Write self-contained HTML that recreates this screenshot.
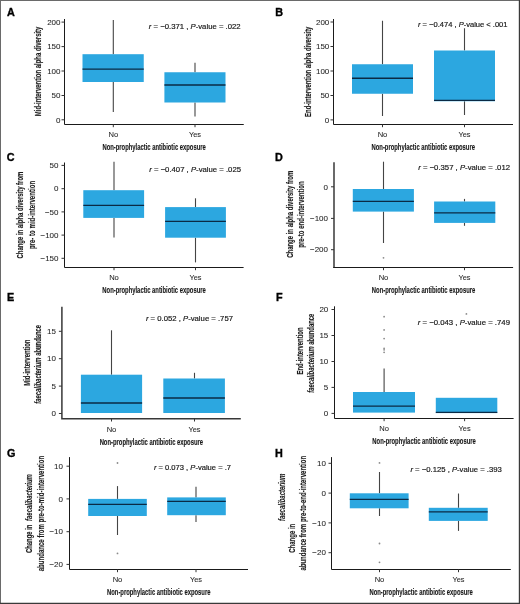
<!DOCTYPE html>
<html><head><meta charset="utf-8"><style>
html,body{margin:0;padding:0;background:#fff;}
svg{display:block;will-change:transform;}
.lab{font:bold 10.8px "Liberation Sans", sans-serif;fill:#000;stroke:#000;stroke-width:0.35px;}
.tl{font:8px "Liberation Sans", sans-serif;fill:#262626;stroke:#262626;stroke-width:0.06px;}
.an{font:7.1px "Liberation Sans", sans-serif;fill:#1a1a1a;stroke:#1a1a1a;stroke-width:0.18px;}
.tt{font:bold 9.3px "Liberation Sans", sans-serif;fill:#1a1a1a;stroke:#1a1a1a;stroke-width:0.15px;}
.ax{fill:none;stroke:#1a1a1a;stroke-width:1;}
.tk{stroke:#333;stroke-width:1;}
.wh{stroke:#444;stroke-width:1.1;}
.md{stroke:#0a2a45;stroke-width:1.3;}
.ou{fill:#8a8a8a;}
</style></head><body>
<svg width="520" height="604" viewBox="0 0 520 604">
<rect x="0" y="0" width="520" height="604" fill="#fff"/>
<path d="M0 0.5H520M0.5 0V604" stroke="#6a6a6a" stroke-width="1"/>
<path d="M519.4 0V604M0 603.4H520" stroke="#3a3a3a" stroke-width="1.2"/>
<text x="7.0" y="16.1" class="lab" id="labA">A</text>
<line x1="113.3" y1="20" x2="113.3" y2="54.2" class="wh"/>
<line x1="113.3" y1="82.0" x2="113.3" y2="112.0" class="wh"/>
<rect x="82.5" y="54.2" width="61.25" height="27.80" fill="#2CA7E0"/>
<line x1="82.5" y1="69.1" x2="143.75" y2="69.1" class="md"/>
<line x1="195.0" y1="62.8" x2="195.0" y2="72.25" class="wh"/>
<line x1="195.0" y1="102.5" x2="195.0" y2="116.4" class="wh"/>
<rect x="164.4" y="72.25" width="61.10" height="30.25" fill="#2CA7E0"/>
<line x1="164.4" y1="85" x2="225.5" y2="85" class="md"/>
<path d="M64.5 19.0 V124.5 H243.75" class="ax"/>
<line x1="61.50" y1="22.1" x2="64.5" y2="22.1" class="tk"/>
<text x="60.50" y="24.85" class="tl" text-anchor="end">200</text>
<line x1="61.50" y1="46.6" x2="64.5" y2="46.6" class="tk"/>
<text x="60.50" y="49.35" class="tl" text-anchor="end">150</text>
<line x1="61.50" y1="71.0" x2="64.5" y2="71.0" class="tk"/>
<text x="60.50" y="73.75" class="tl" text-anchor="end">100</text>
<line x1="61.50" y1="95.5" x2="64.5" y2="95.5" class="tk"/>
<text x="60.50" y="98.25" class="tl" text-anchor="end">50</text>
<line x1="61.50" y1="119.8" x2="64.5" y2="119.8" class="tk"/>
<text x="60.50" y="122.55" class="tl" text-anchor="end">0</text>
<line x1="113.3" y1="124.5" x2="113.3" y2="127.20" class="tk"/>
<text x="113.3" y="137.20" class="tl" text-anchor="middle" textLength="9.7" lengthAdjust="spacingAndGlyphs">No</text>
<line x1="195.0" y1="124.5" x2="195.0" y2="127.20" class="tk"/>
<text x="195.0" y="137.20" class="tl" text-anchor="middle" textLength="12.1" lengthAdjust="spacingAndGlyphs">Yes</text>
<text x="148.8" y="29.00" class="an" textLength="91.8" lengthAdjust="spacingAndGlyphs"><tspan font-style="italic">r</tspan> = −0.371 , <tspan font-style="italic">P</tspan>-value = .022</text>
<text x="154.12" y="150.40" class="tt" text-anchor="middle" textLength="103.4" lengthAdjust="spacingAndGlyphs">Non-prophylactic antibiotic exposure</text>
<text transform="translate(41.2,71.4) rotate(-90)" x="0" y="0" class="tt yt" text-anchor="middle" textLength="89.6" lengthAdjust="spacingAndGlyphs">Mid-intervention alpha diversity</text>
<text x="275.3" y="16.2" class="lab" id="labB">B</text>
<line x1="382.5" y1="20.75" x2="382.5" y2="64.25" class="wh"/>
<line x1="382.5" y1="93.75" x2="382.5" y2="116.0" class="wh"/>
<rect x="352" y="64.25" width="61.00" height="29.50" fill="#2CA7E0"/>
<line x1="352" y1="78.25" x2="413" y2="78.25" class="md"/>
<line x1="464.5" y1="28.25" x2="464.5" y2="50.5" class="wh"/>
<line x1="464.5" y1="101.25" x2="464.5" y2="115" class="wh"/>
<rect x="434" y="50.5" width="61.00" height="50.75" fill="#2CA7E0"/>
<line x1="434" y1="100.3" x2="495" y2="100.3" class="md"/>
<path d="M333.5 19.0 V124.5 H513" class="ax"/>
<line x1="330.50" y1="22.0" x2="333.5" y2="22.0" class="tk"/>
<text x="329.30" y="24.75" class="tl" text-anchor="end">200</text>
<line x1="330.50" y1="46.5" x2="333.5" y2="46.5" class="tk"/>
<text x="329.30" y="49.25" class="tl" text-anchor="end">150</text>
<line x1="330.50" y1="71.0" x2="333.5" y2="71.0" class="tk"/>
<text x="329.30" y="73.75" class="tl" text-anchor="end">100</text>
<line x1="330.50" y1="95.5" x2="333.5" y2="95.5" class="tk"/>
<text x="329.30" y="98.25" class="tl" text-anchor="end">50</text>
<line x1="330.50" y1="119.9" x2="333.5" y2="119.9" class="tk"/>
<text x="329.30" y="122.65" class="tl" text-anchor="end">0</text>
<line x1="382.5" y1="124.5" x2="382.5" y2="127.20" class="tk"/>
<text x="382.5" y="137.20" class="tl" text-anchor="middle" textLength="9.7" lengthAdjust="spacingAndGlyphs">No</text>
<line x1="464.5" y1="124.5" x2="464.5" y2="127.20" class="tk"/>
<text x="464.5" y="137.20" class="tl" text-anchor="middle" textLength="12.1" lengthAdjust="spacingAndGlyphs">Yes</text>
<text x="418" y="27.00" class="an" textLength="89.5" lengthAdjust="spacingAndGlyphs"><tspan font-style="italic">r</tspan> = −0.474 , <tspan font-style="italic">P</tspan>-value &lt; .001</text>
<text x="423.25" y="150.40" class="tt" text-anchor="middle" textLength="103.4" lengthAdjust="spacingAndGlyphs">Non-prophylactic antibiotic exposure</text>
<text transform="translate(311.3,71.75) rotate(-90)" x="0" y="0" class="tt yt" text-anchor="middle" textLength="90.3" lengthAdjust="spacingAndGlyphs">End-intervention alpha diversity</text>
<text x="6.7" y="161.4" class="lab" id="labC">C</text>
<line x1="114.0" y1="161.7" x2="114.0" y2="190.2" class="wh"/>
<line x1="114.0" y1="217.9" x2="114.0" y2="237.4" class="wh"/>
<rect x="83.3" y="190.2" width="60.80" height="27.70" fill="#2CA7E0"/>
<line x1="83.3" y1="205.35" x2="144.1" y2="205.35" class="md"/>
<line x1="195.5" y1="198.3" x2="195.5" y2="207.1" class="wh"/>
<line x1="195.5" y1="237.7" x2="195.5" y2="262.4" class="wh"/>
<rect x="165.1" y="207.1" width="60.80" height="30.60" fill="#2CA7E0"/>
<line x1="165.1" y1="221.4" x2="225.9" y2="221.4" class="md"/>
<path d="M64.5 162.5 V267.5 H243.6" class="ax"/>
<line x1="61.50" y1="165.4" x2="64.5" y2="165.4" class="tk"/>
<text x="58.50" y="168.15" class="tl" text-anchor="end">50</text>
<line x1="61.50" y1="188.7" x2="64.5" y2="188.7" class="tk"/>
<text x="58.50" y="191.45" class="tl" text-anchor="end">0</text>
<line x1="61.50" y1="211.9" x2="64.5" y2="211.9" class="tk"/>
<text x="58.50" y="214.65" class="tl" text-anchor="end">−50</text>
<line x1="61.50" y1="235.1" x2="64.5" y2="235.1" class="tk"/>
<text x="58.50" y="237.85" class="tl" text-anchor="end">−100</text>
<line x1="61.50" y1="258.3" x2="64.5" y2="258.3" class="tk"/>
<text x="58.50" y="261.05" class="tl" text-anchor="end">−150</text>
<line x1="114.0" y1="267.5" x2="114.0" y2="270.20" class="tk"/>
<text x="114.0" y="280.20" class="tl" text-anchor="middle" textLength="9.7" lengthAdjust="spacingAndGlyphs">No</text>
<line x1="195.5" y1="267.5" x2="195.5" y2="270.20" class="tk"/>
<text x="195.5" y="280.20" class="tl" text-anchor="middle" textLength="12.1" lengthAdjust="spacingAndGlyphs">Yes</text>
<text x="149.2" y="172.40" class="an" textLength="91.8" lengthAdjust="spacingAndGlyphs"><tspan font-style="italic">r</tspan> = −0.407 , <tspan font-style="italic">P</tspan>-value = .025</text>
<text x="154.05" y="293.40" class="tt" text-anchor="middle" textLength="103.4" lengthAdjust="spacingAndGlyphs">Non-prophylactic antibiotic exposure</text>
<text transform="translate(23.4,215.1) rotate(-90)" x="0" y="0" class="tt yt" text-anchor="middle" textLength="86.8" lengthAdjust="spacingAndGlyphs">Change in alpha diversity from</text>
<text transform="translate(34.6,215.0) rotate(-90)" x="0" y="0" class="tt yt" text-anchor="middle" textLength="68.2" lengthAdjust="spacingAndGlyphs">pre- to mid-intervention</text>
<text x="275.1" y="161.2" class="lab" id="labD">D</text>
<line x1="383.5" y1="161.7" x2="383.5" y2="189.0" class="wh"/>
<line x1="383.5" y1="211.6" x2="383.5" y2="243" class="wh"/>
<rect x="352.8" y="189.0" width="61.10" height="22.60" fill="#2CA7E0"/>
<line x1="352.8" y1="201.3" x2="413.9" y2="201.3" class="md"/>
<circle cx="383.5" cy="257.8" r="0.9" class="ou"/>
<line x1="464.5" y1="198.9" x2="464.5" y2="201.5" class="wh"/>
<line x1="464.5" y1="222.9" x2="464.5" y2="225.8" class="wh"/>
<rect x="434.1" y="201.5" width="61.20" height="21.40" fill="#2CA7E0"/>
<line x1="434.1" y1="212.9" x2="495.3" y2="212.9" class="md"/>
<path d="M334.0 162.3 V268.0" class="ax" style="stroke-width:1.4;stroke:#2a2a2a"/>
<path d="M333.3 267.5 H513.1" class="ax"/>
<line x1="331.00" y1="186.8" x2="334.0" y2="186.8" class="tk"/>
<text x="328.00" y="189.55" class="tl" text-anchor="end">0</text>
<line x1="331.00" y1="218.4" x2="334.0" y2="218.4" class="tk"/>
<text x="328.00" y="221.15" class="tl" text-anchor="end">−100</text>
<line x1="331.00" y1="249.7" x2="334.0" y2="249.7" class="tk"/>
<text x="328.00" y="252.45" class="tl" text-anchor="end">−200</text>
<line x1="383.5" y1="267.5" x2="383.5" y2="270.20" class="tk"/>
<text x="383.5" y="280.20" class="tl" text-anchor="middle" textLength="9.7" lengthAdjust="spacingAndGlyphs">No</text>
<line x1="464.5" y1="267.5" x2="464.5" y2="270.20" class="tk"/>
<text x="464.5" y="280.20" class="tl" text-anchor="middle" textLength="12.1" lengthAdjust="spacingAndGlyphs">Yes</text>
<text x="418.2" y="169.80" class="an" textLength="91.8" lengthAdjust="spacingAndGlyphs"><tspan font-style="italic">r</tspan> = −0.357 , <tspan font-style="italic">P</tspan>-value = .012</text>
<text x="423.55" y="293.40" class="tt" text-anchor="middle" textLength="103.4" lengthAdjust="spacingAndGlyphs">Non-prophylactic antibiotic exposure</text>
<text transform="translate(293.2,214.3) rotate(-90)" x="0" y="0" class="tt yt" text-anchor="middle" textLength="87.0" lengthAdjust="spacingAndGlyphs">Change in alpha diversity from</text>
<text transform="translate(304.3,214.55) rotate(-90)" x="0" y="0" class="tt yt" text-anchor="middle" textLength="66.3" lengthAdjust="spacingAndGlyphs">pre-to end-intervention</text>
<text x="7.1" y="301.2" class="lab" id="labE">E</text>
<line x1="111.5" y1="330.3" x2="111.5" y2="374.7" class="wh"/>
<rect x="80.9" y="374.7" width="61.20" height="38.30" fill="#2CA7E0"/>
<line x1="80.9" y1="403.0" x2="142.1" y2="403.0" class="md"/>
<line x1="194.5" y1="372.8" x2="194.5" y2="378.5" class="wh"/>
<rect x="163.3" y="378.5" width="61.60" height="34.50" fill="#2CA7E0"/>
<line x1="163.3" y1="398.0" x2="224.9" y2="398.0" class="md"/>
<path d="M61.9 306.7 V418.8 H240.8" class="ax" style="stroke-width:1.5;stroke:#383838"/>
<line x1="58.90" y1="331.3" x2="61.9" y2="331.3" class="tk"/>
<text x="56.00" y="334.05" class="tl" text-anchor="end">15</text>
<line x1="58.90" y1="358.7" x2="61.9" y2="358.7" class="tk"/>
<text x="56.00" y="361.45" class="tl" text-anchor="end">10</text>
<line x1="58.90" y1="386.1" x2="61.9" y2="386.1" class="tk"/>
<text x="56.00" y="388.85" class="tl" text-anchor="end">5</text>
<line x1="58.90" y1="413.5" x2="61.9" y2="413.5" class="tk"/>
<text x="56.00" y="416.25" class="tl" text-anchor="end">0</text>
<line x1="111.5" y1="418.8" x2="111.5" y2="421.50" class="tk"/>
<text x="111.5" y="431.50" class="tl" text-anchor="middle" textLength="9.7" lengthAdjust="spacingAndGlyphs">No</text>
<line x1="194.5" y1="418.8" x2="194.5" y2="421.50" class="tk"/>
<text x="194.5" y="431.50" class="tl" text-anchor="middle" textLength="12.1" lengthAdjust="spacingAndGlyphs">Yes</text>
<text x="145.9" y="320.70" class="an" textLength="87.1" lengthAdjust="spacingAndGlyphs"><tspan font-style="italic">r</tspan> = 0.052 , <tspan font-style="italic">P</tspan>-value = .757</text>
<text x="151.35" y="444.70" class="tt" text-anchor="middle" textLength="103.4" lengthAdjust="spacingAndGlyphs">Non-prophylactic antibiotic exposure</text>
<text transform="translate(30.2,362.65) rotate(-90)" x="0" y="0" class="tt yt" text-anchor="middle" textLength="46.3" lengthAdjust="spacingAndGlyphs">Mid-intervention</text>
<text transform="translate(41.0,364.3) rotate(-90)" x="0" y="0" class="tt yt" text-anchor="middle" textLength="78.8" lengthAdjust="spacingAndGlyphs"><tspan font-style="italic">faecalibacterium</tspan> abundance</text>
<text x="275.9" y="301.2" class="lab" id="labF">F</text>
<line x1="384.1" y1="368.4" x2="384.1" y2="392" class="wh"/>
<rect x="353.0" y="392" width="62.00" height="20.60" fill="#2CA7E0"/>
<line x1="353.0" y1="406.2" x2="415.0" y2="406.2" class="md"/>
<circle cx="384.1" cy="316.7" r="0.9" class="ou"/>
<circle cx="384.1" cy="329.9" r="0.9" class="ou"/>
<circle cx="384.1" cy="338.6" r="0.9" class="ou"/>
<circle cx="384.1" cy="348.3" r="0.9" class="ou"/>
<circle cx="384.1" cy="349.8" r="0.9" class="ou"/>
<circle cx="384.1" cy="352.3" r="0.9" class="ou"/>
<rect x="435.8" y="397.8" width="61.50" height="15.30" fill="#2CA7E0"/>
<line x1="435.8" y1="412.3" x2="497.3" y2="412.3" class="md"/>
<circle cx="466.4" cy="313.9" r="0.9" class="ou"/>
<path d="M334.5 306.3 V418.5 H513.6" class="ax"/>
<line x1="331.50" y1="309.5" x2="334.5" y2="309.5" class="tk"/>
<text x="328.30" y="312.25" class="tl" text-anchor="end">20</text>
<line x1="331.50" y1="335.5" x2="334.5" y2="335.5" class="tk"/>
<text x="328.30" y="338.25" class="tl" text-anchor="end">15</text>
<line x1="331.50" y1="361.5" x2="334.5" y2="361.5" class="tk"/>
<text x="328.30" y="364.25" class="tl" text-anchor="end">10</text>
<line x1="331.50" y1="387.4" x2="334.5" y2="387.4" class="tk"/>
<text x="328.30" y="390.15" class="tl" text-anchor="end">5</text>
<line x1="331.50" y1="413.4" x2="334.5" y2="413.4" class="tk"/>
<text x="328.30" y="416.15" class="tl" text-anchor="end">0</text>
<line x1="384.1" y1="418.5" x2="384.1" y2="421.20" class="tk"/>
<text x="384.1" y="431.20" class="tl" text-anchor="middle" textLength="9.7" lengthAdjust="spacingAndGlyphs">No</text>
<line x1="464.6" y1="418.5" x2="464.6" y2="421.20" class="tk"/>
<text x="464.6" y="431.20" class="tl" text-anchor="middle" textLength="12.1" lengthAdjust="spacingAndGlyphs">Yes</text>
<text x="417.7" y="325.00" class="an" textLength="92.3" lengthAdjust="spacingAndGlyphs"><tspan font-style="italic">r</tspan> = −0.043 , <tspan font-style="italic">P</tspan>-value = .749</text>
<text x="424.05" y="444.40" class="tt" text-anchor="middle" textLength="103.4" lengthAdjust="spacingAndGlyphs">Non-prophylactic antibiotic exposure</text>
<text transform="translate(302.6,351.0) rotate(-90)" x="0" y="0" class="tt yt" text-anchor="middle" textLength="47.0" lengthAdjust="spacingAndGlyphs">End-intervention</text>
<text transform="translate(313.8,353.2) rotate(-90)" x="0" y="0" class="tt yt" text-anchor="middle" textLength="79.2" lengthAdjust="spacingAndGlyphs"><tspan font-style="italic">faecalibacterium</tspan> abundance</text>
<text x="6.9" y="457.1" class="lab" id="labG">G</text>
<line x1="117.5" y1="486.1" x2="117.5" y2="498.9" class="wh"/>
<line x1="117.5" y1="516" x2="117.5" y2="535" class="wh"/>
<rect x="88.2" y="498.9" width="58.60" height="17.10" fill="#2CA7E0"/>
<line x1="88.2" y1="504.3" x2="146.8" y2="504.3" class="md"/>
<circle cx="117.5" cy="463" r="0.9" class="ou"/>
<circle cx="117.5" cy="553.4" r="0.9" class="ou"/>
<line x1="196.0" y1="486.8" x2="196.0" y2="497.4" class="wh"/>
<line x1="196.0" y1="515.2" x2="196.0" y2="522" class="wh"/>
<rect x="167.2" y="497.4" width="58.60" height="17.80" fill="#2CA7E0"/>
<line x1="167.2" y1="501.3" x2="225.8" y2="501.3" class="md"/>
<path d="M69.5 457.1 V569.5 H248" class="ax"/>
<line x1="66.50" y1="466.2" x2="69.5" y2="466.2" class="tk"/>
<text x="63.00" y="468.95" class="tl" text-anchor="end">10</text>
<line x1="66.50" y1="498.9" x2="69.5" y2="498.9" class="tk"/>
<text x="63.00" y="501.65" class="tl" text-anchor="end">0</text>
<line x1="66.50" y1="531.7" x2="69.5" y2="531.7" class="tk"/>
<text x="63.00" y="534.45" class="tl" text-anchor="end">−10</text>
<line x1="66.50" y1="564.4" x2="69.5" y2="564.4" class="tk"/>
<text x="63.00" y="567.15" class="tl" text-anchor="end">−20</text>
<line x1="117.5" y1="569.5" x2="117.5" y2="572.20" class="tk"/>
<text x="117.5" y="582.20" class="tl" text-anchor="middle" textLength="9.7" lengthAdjust="spacingAndGlyphs">No</text>
<line x1="196.0" y1="569.5" x2="196.0" y2="572.20" class="tk"/>
<text x="196.0" y="582.20" class="tl" text-anchor="middle" textLength="12.1" lengthAdjust="spacingAndGlyphs">Yes</text>
<text x="153.9" y="470.30" class="an" textLength="77.1" lengthAdjust="spacingAndGlyphs"><tspan font-style="italic">r</tspan> = 0.073 , <tspan font-style="italic">P</tspan>-value = .7</text>
<text x="158.75" y="595.40" class="tt" text-anchor="middle" textLength="103.4" lengthAdjust="spacingAndGlyphs">Non-prophylactic antibiotic exposure</text>
<text transform="translate(32.4,497.55) rotate(-90)" x="0" y="0" class="tt yt" text-anchor="middle" textLength="46.7" lengthAdjust="spacingAndGlyphs"><tspan font-style="italic">faecalibacterium</tspan></text>
<text transform="translate(32.4,538.8) rotate(-90)" x="0" y="0" class="tt yt" text-anchor="middle" textLength="28.4" lengthAdjust="spacingAndGlyphs">Change in</text>
<text transform="translate(43.9,513.55) rotate(-90)" x="0" y="0" class="tt yt" text-anchor="middle" textLength="115.5" lengthAdjust="spacingAndGlyphs">abundance from pre-to-mid-intervention</text>
<text x="275.1" y="457.4" class="lab" id="labH">H</text>
<line x1="379.5" y1="472" x2="379.5" y2="493.3" class="wh"/>
<line x1="379.5" y1="508.3" x2="379.5" y2="516" class="wh"/>
<rect x="349.8" y="493.3" width="58.80" height="15.00" fill="#2CA7E0"/>
<line x1="349.8" y1="499.3" x2="408.6" y2="499.3" class="md"/>
<circle cx="379.5" cy="462.9" r="0.9" class="ou"/>
<circle cx="379.5" cy="543.5" r="0.9" class="ou"/>
<circle cx="379.5" cy="562.3" r="0.9" class="ou"/>
<line x1="458.5" y1="493.5" x2="458.5" y2="507.8" class="wh"/>
<line x1="458.5" y1="520.9" x2="458.5" y2="530.9" class="wh"/>
<rect x="428.8" y="507.8" width="58.90" height="13.10" fill="#2CA7E0"/>
<line x1="428.8" y1="511.9" x2="487.7" y2="511.9" class="md"/>
<path d="M331.5 457.1 V569.5 H510.8" class="ax"/>
<line x1="328.50" y1="463.3" x2="331.5" y2="463.3" class="tk"/>
<text x="325.90" y="466.05" class="tl" text-anchor="end">10</text>
<line x1="328.50" y1="493.1" x2="331.5" y2="493.1" class="tk"/>
<text x="325.90" y="495.85" class="tl" text-anchor="end">0</text>
<line x1="328.50" y1="522.9" x2="331.5" y2="522.9" class="tk"/>
<text x="325.90" y="525.65" class="tl" text-anchor="end">−10</text>
<line x1="328.50" y1="552.7" x2="331.5" y2="552.7" class="tk"/>
<text x="325.90" y="555.45" class="tl" text-anchor="end">−20</text>
<line x1="379.5" y1="569.5" x2="379.5" y2="572.20" class="tk"/>
<text x="379.5" y="582.20" class="tl" text-anchor="middle" textLength="9.7" lengthAdjust="spacingAndGlyphs">No</text>
<line x1="458.5" y1="569.5" x2="458.5" y2="572.20" class="tk"/>
<text x="458.5" y="582.20" class="tl" text-anchor="middle" textLength="12.1" lengthAdjust="spacingAndGlyphs">Yes</text>
<text x="410.4" y="471.60" class="an" textLength="91.4" lengthAdjust="spacingAndGlyphs"><tspan font-style="italic">r</tspan> = −0.125 , <tspan font-style="italic">P</tspan>-value = .393</text>
<text x="421.15" y="595.40" class="tt" text-anchor="middle" textLength="103.4" lengthAdjust="spacingAndGlyphs">Non-prophylactic antibiotic exposure</text>
<text transform="translate(285.4,497.35) rotate(-90)" x="0" y="0" class="tt yt" text-anchor="middle" textLength="47.5" lengthAdjust="spacingAndGlyphs"><tspan font-style="italic">faecalibacterium</tspan></text>
<text transform="translate(295.3,538.25) rotate(-90)" x="0" y="0" class="tt yt" text-anchor="middle" textLength="29.1" lengthAdjust="spacingAndGlyphs">Change in</text>
<text transform="translate(305.9,513.25) rotate(-90)" x="0" y="0" class="tt yt" text-anchor="middle" textLength="114.7" lengthAdjust="spacingAndGlyphs">abundance from pre-to-end-intervention</text>
</svg>
</body></html>
